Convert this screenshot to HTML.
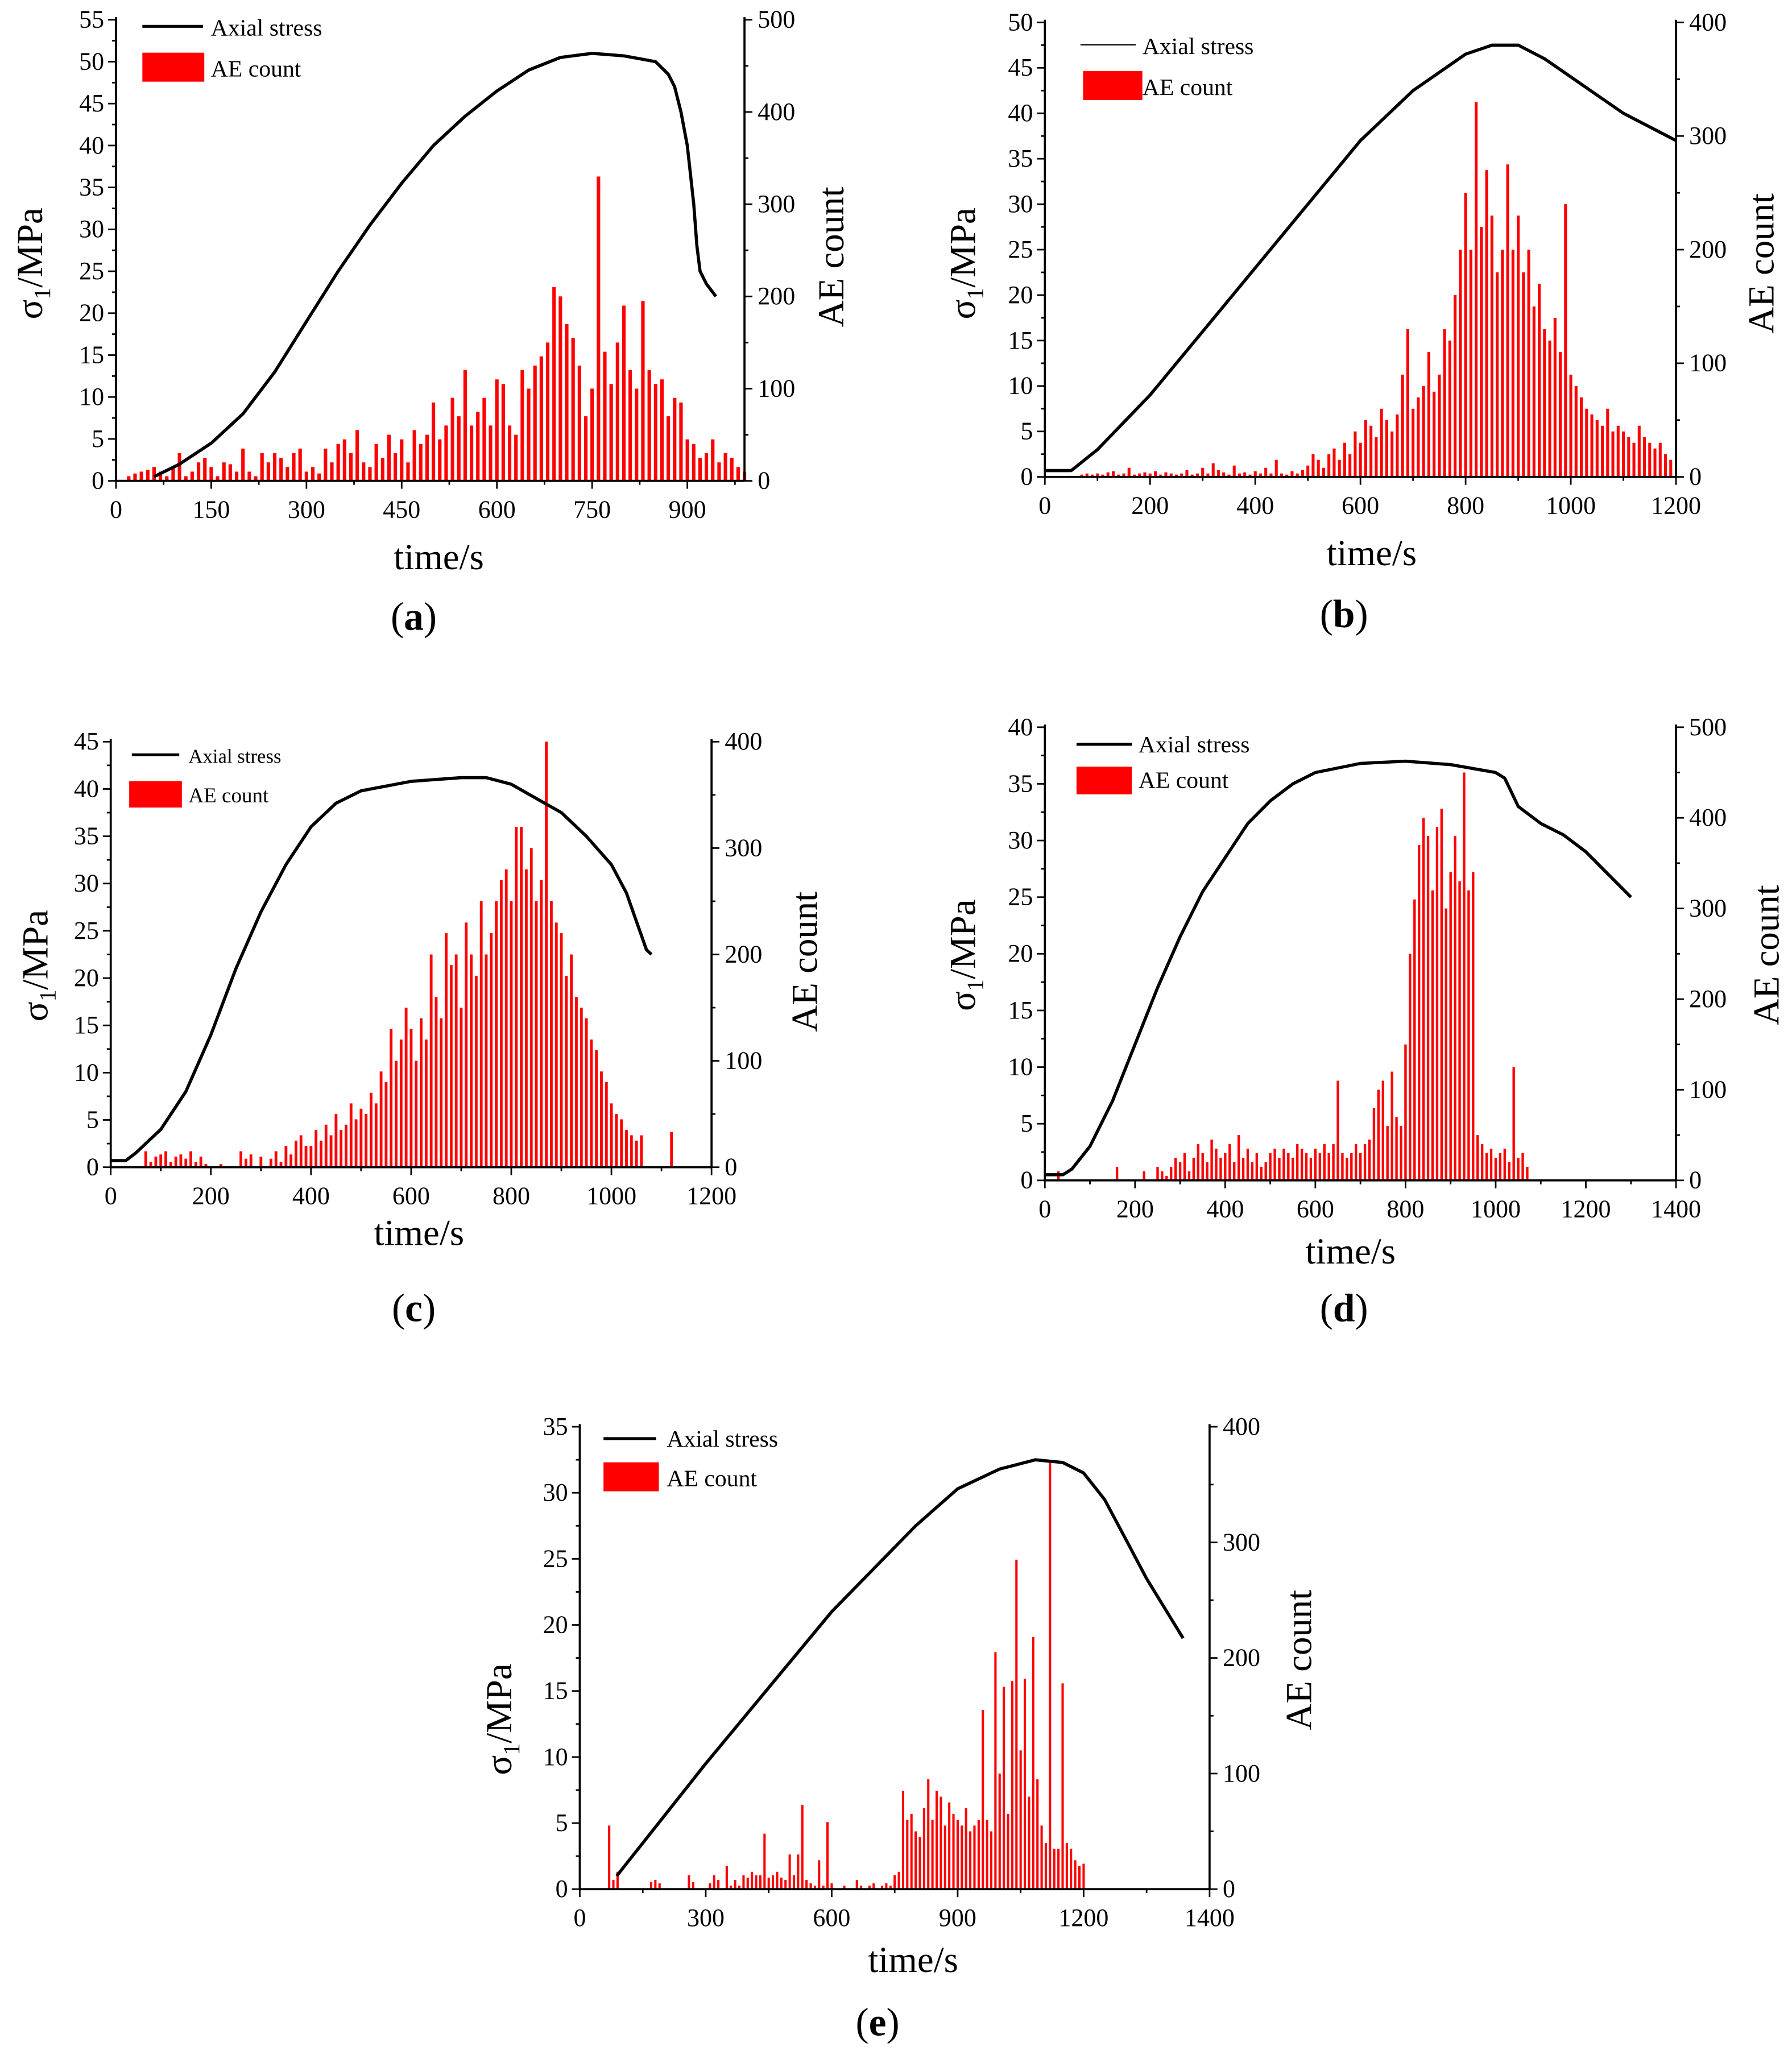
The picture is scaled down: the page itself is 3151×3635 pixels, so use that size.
<!DOCTYPE html>
<html><head><meta charset="utf-8">
<style>
html,body{margin:0;padding:0;background:#fff;}
svg{display:block;}
text{font-family:"Liberation Serif",serif;fill:#000;}
</style></head>
<body>
<svg id="fig" width="3151" height="3635" viewBox="0 0 1360 1569" xmlns="http://www.w3.org/2000/svg"></svg>
<script>
// ---------- DATA ----------
const aStressT=[60,100,150,200,250,300,350,400,450,500,550,600,650,700,750,800,850,870,880,890,900,910,915,920,930,940,945];
const aStressV=[0.5,2,4.5,8,13,19,25,30.5,35.5,40,43.5,46.5,49,50.5,51,50.7,50,48.5,47,44,40,33,28,25,23.5,22.5,22];
const aAEStart=20;
const aAE=[5,8,10,12,15,10,5,14,
30,5,10,20,25,15,5,20,18,10,
35,10,5,30,20,30,25,15,30,35,
10,15,8,35,20,40,45,30,55,20,
15,40,25,50,30,45,20,55,40,50,
85,45,60,90,70,120,60,75,90,60,
110,105,60,50,120,100,125,135,150,210,
200,170,155,125,70,100,330,140,105,150,
190,120,100,195,120,105,110,70,90,85,
45,40,25,30,45,20,30,25,15,10];

const bStressT=[0,50,100,200,300,400,500,600,700,800,850,900,950,1000,1050,1100,1150,1200];
const bStressV=[0.7,0.7,3,9,16,23,30,37,42.5,46.5,47.5,47.5,46,44,42,40,38.5,37];
const bAEStart=0;
const bAE=[0,0,0,0,0,0,0,2,3,2,
3,2,4,5,2,3,8,2,3,4,
3,5,2,4,3,2,3,6,2,3,
8,3,12,6,4,2,10,3,4,2,
5,3,8,3,15,3,2,5,3,6,
10,20,15,8,20,25,15,30,20,40,
30,50,45,35,60,50,40,55,90,130,
60,70,80,110,75,90,130,120,160,200,
250,200,330,220,270,230,180,200,275,200,
230,180,200,150,170,130,120,140,110,240,
90,80,70,60,55,50,45,60,40,45,
40,35,30,45,35,30,25,30,20,15];

const cStressT=[0,30,50,100,150,200,250,300,350,400,450,500,600,700,750,800,850,900,950,1000,1030,1050,1070,1080];
const cStressV=[0.7,0.7,1.5,4,8,14,21,27,32,36,38.5,39.8,40.8,41.2,41.2,40.5,39,37.5,35,32,29,26,23,22.5];
const cAEStart=0;
const cAE=[0,0,0,0,0,0,0,15,5,10,
12,15,5,10,12,8,15,5,10,3,
0,0,3,0,0,0,15,8,12,0,
10,0,8,15,5,20,12,25,30,20,
20,35,25,40,30,50,35,40,60,45,
55,50,70,60,90,80,130,100,120,150,
130,100,140,120,200,160,140,220,190,200,
150,230,200,180,250,200,220,250,270,280,
250,320,320,280,300,250,270,400,250,230,
220,180,200,160,150,140,120,110,90,80,
60,50,45,35,30,25,30,0,0,0,
0,0,33,0,0,0,0,0,0,0];

const dStressT=[0,40,60,100,150,200,250,300,350,400,450,500,550,600,700,800,900,1000,1020,1050,1100,1150,1200,1250,1300];
const dStressV=[0.5,0.5,1,3,7,12,17,21.5,25.5,28.5,31.5,33.5,35,36,36.8,37,36.7,36,35.5,33,31.5,30.5,29,27,25];
const dAEStart=0;
const dAE=[0,0,0,10,0,0,0,0,0,0,
0,0,0,0,0,0,15,0,0,0,
0,0,10,0,0,15,10,5,15,25,
20,30,10,25,40,30,20,45,35,25,
30,40,20,50,25,35,20,30,15,20,
30,35,25,35,30,25,40,35,30,25,
35,30,40,30,40,110,30,25,30,40,
30,40,45,80,100,110,60,120,70,60,
150,250,310,370,400,380,320,390,410,300,
340,380,330,450,320,340,50,40,30,35,
25,30,35,20,125,25,30,15,0,0,
0,0,0,0,0,0,0,0,0,0,
0,0,0,0,0,0,0,0,0,0,
0,0,0,0,0,0,0,0,0,0];

const eStressT=[88,300,600,800,900,1000,1085,1150,1200,1250,1300,1350,1437];
const eStressV=[1,9.5,21,27.5,30.3,31.8,32.5,32.3,31.5,29.5,26.5,23.5,19];
const eAEStart=0;
const eAE=[0,0,0,0,0,0,0,55,8,15,
0,0,0,0,0,0,0,6,8,5,
0,0,0,0,0,0,12,6,0,0,
0,5,12,8,0,20,3,8,3,12,
10,15,12,12,48,10,12,15,10,8,
30,12,30,73,8,5,3,25,3,58,
5,0,0,3,0,0,8,3,0,3,
5,0,3,5,3,12,15,85,60,65,
50,45,70,95,60,85,80,55,75,65,
60,55,70,50,55,60,155,60,50,205,
100,175,65,180,285,120,182,80,218,95,
55,40,370,35,35,178,40,35,25,20,
22,0,0,0,0,0,0,0,0,0,
0,0,0,0,0,0,0,0,0,0];

const aXTicks=[0,150,300,450,600,750,900];
const bXTicks=[0,200,400,600,800,1000,1200];
const cXTicks=[0,200,400,600,800,1000,1200];
const dXTicks=[0,200,400,600,800,1000,1200,1400];
const eXTicks=[0,300,600,900,1200,1500];
const eXTickLabels=['0','300','600','900','1200','1400'];

// ---------- LAYOUT ----------
const panels=[
 {id:'a',L:88,R:565,B:365,T:15,xMax:990,xT:aXTicks,xMinor:75,yMax:55,rMax:500,sT:aStressT,sV:aStressV,ae:aAE,aeS:aAEStart,
  xl:[333,432],yl:[32,200],rl:[640,195],cap:[314,478],lg:{lx:108,ly:20,lw:46,rx:108,ry:40,rw:47,rh:22,tx:160,ty1:27,ty2:58,mono:false}},
 {id:'b',L:793,R:1272,B:362,T:17,xMax:1200,xT:bXTicks,xMinor:100,yMax:50,rMax:400,sT:bStressT,sV:bStressV,ae:bAE,aeS:bAEStart,
  xl:[1041,429],yl:[740,200],rl:[1346,200],cap:[1020,476],lg:{lx:820,ly:34,lw:42,rx:822,ry:54,rw:45,rh:22,tx:867,ty1:41,ty2:72,mono:false,thin:true}},
 {id:'c',L:84,R:540,B:886,T:563,xMax:1200,xT:cXTicks,xMinor:100,yMax:45,rMax:400,sT:cStressT,sV:cStressV,ae:cAE,aeS:cAEStart,
  xl:[318,945],yl:[36,733],rl:[620,730],cap:[314,1003],lg:{lx:100,ly:573,lw:36,rx:98,ry:593,rw:40,rh:20,tx:143,ty1:579,ty2:609,mono:true}},
 {id:'d',L:793,R:1272,B:896,T:552,xMax:1400,xT:dXTicks,xMinor:100,yMax:40,rMax:500,sT:dStressT,sV:dStressV,ae:dAE,aeS:dAEStart,
  xl:[1025,959],yl:[740,725],rl:[1350,725],cap:[1020,1003],lg:{lx:817,ly:565,lw:42,rx:817,ry:582,rw:42,rh:21,tx:864,ty1:571,ty2:598,mono:false}},
 {id:'e',L:440,R:918,B:1434,T:1083,xMax:1500,xT:eXTicks,xLab:eXTickLabels,xMinor:150,yMax:35,rMax:400,sT:eStressT,sV:eStressV,ae:eAE,aeS:eAEStart,
  xl:[693,1497],yl:[388,1305],rl:[995,1260],cap:[666,1545],lg:{lx:458,ly:1092,lw:40,rx:458,ry:1110,rw:42,rh:22,tx:506,ty1:1098,ty2:1128,mono:false}}
];
const NS='http://www.w3.org/2000/svg';
const svg=document.getElementById('fig');
function mk(tag,attrs,parent){const e=document.createElementNS(NS,tag);for(const k in attrs)e.setAttribute(k,attrs[k]);(parent||svg).appendChild(e);return e;}

panels.forEach(p=>{
 const g=mk('g',{});
 
 
 const xs=t=>p.L+(t/p.xMax)*(p.R-p.L);
 const ys=v=>p.B-(v/p.yMax)*(p.B-p.T);
 const rs=v=>p.B-(v/p.rMax)*(p.B-p.T);
 const bw=(xs(10)-xs(0))*0.55;
 p.ae.forEach((v,i)=>{
  if(v<=0)return;
  const t=p.aeS+i*10;
  const r=mk('rect',{x:xs(t)-bw/2,y:rs(v),width:bw,height:p.B-rs(v),fill:'#ff0000'},g);
  
  
 });
 const pts=p.sT.map((t,i)=>xs(t).toFixed(1)+','+ys(p.sV[i]).toFixed(1)).join(' ');
 const pl=mk('polyline',{points:pts,fill:'none',stroke:'#000','stroke-width':2.4,'stroke-linejoin':'round'},g);
 
 
 const ax=mk('path',{d:`M${p.L},${p.T-2}V${p.B}H${p.R}M${p.R},${p.T-2}V${p.B}`,stroke:'#000','stroke-width':1.6,fill:'none'},g);
 
 
 for(let v=0;v<=p.yMax+1e-6;v+=2.5){
  const maj=Math.abs(v%5)<1e-6;
  mk('line',{x1:p.L,x2:p.L-(maj?6:3),y1:ys(v),y2:ys(v),stroke:'#000','stroke-width':1.2},g);
  if(maj){const t=mk('text',{x:p.L-9,y:ys(v)+6,'text-anchor':'end','font-size':19},g);t.textContent=v;
   
   }
 }
 for(let v=0;v<=p.rMax+1e-6;v+=50){
  const maj=v%100===0;
  mk('line',{x1:p.R,x2:p.R+(maj?6:3),y1:rs(v),y2:rs(v),stroke:'#000','stroke-width':1.2},g);
  if(maj){const t=mk('text',{x:p.R+10,y:rs(v)+6,'font-size':19},g);t.textContent=v;
   
   }
 }
 for(let v=0;v<=p.xMax+1e-6;v+=p.xMinor){
  mk('line',{x1:xs(v),x2:xs(v),y1:p.B,y2:p.B+(p.xT.includes(v)?6:3),stroke:'#000','stroke-width':1.2},g);
 }
 p.xT.forEach((v,i)=>{
  const t=mk('text',{x:xs(v),y:p.B+28,'text-anchor':'middle','font-size':19},g);t.textContent=p.xLab?p.xLab[i]:v;
  
  
 });
 const xl=mk('text',{x:p.xl[0],y:p.xl[1],'text-anchor':'middle','font-size':28},g);xl.textContent='time/s';
 
 
 const yl=mk('text',{x:p.yl[0],y:p.yl[1],'text-anchor':'middle','font-size':28,transform:`rotate(-90 ${p.yl[0]} ${p.yl[1]})`},g);
 yl.innerHTML='σ<tspan font-size="18" dy="6">1</tspan><tspan dy="-6">/MPa</tspan>';
 
 
 const rl=mk('text',{x:p.rl[0],y:p.rl[1],'text-anchor':'middle','font-size':28,transform:`rotate(-90 ${p.rl[0]} ${p.rl[1]})`},g);
 rl.textContent='AE count';
 
 
 const cap=mk('text',{x:p.cap[0],y:p.cap[1],'text-anchor':'middle','font-size':30},g);
 cap.innerHTML='(<tspan font-weight="bold">'+p.id+'</tspan>)';
 
 
 const L=p.lg;
 const lg=mk('g',{},g);
 
 
 mk('line',{x1:L.lx,x2:L.lx+L.lw,y1:L.ly,y2:L.ly,stroke:'#000','stroke-width':L.thin?1:2.2},lg);
 mk('rect',{x:L.rx,y:L.ry,width:L.rw,height:L.rh,fill:'#ff0000'},lg);
 const t1=mk('text',{x:L.tx,y:L.ty1,'font-size':L.mono?15:18,'font-family':L.mono?'Liberation Mono, monospace':'Liberation Serif, serif'},lg);t1.textContent='Axial stress';
 
 
 const t2=mk('text',{x:L.tx,y:L.ty2,'font-size':L.mono?16:18},lg);t2.textContent='AE count';
 
 
});
</script>
</body></html>
